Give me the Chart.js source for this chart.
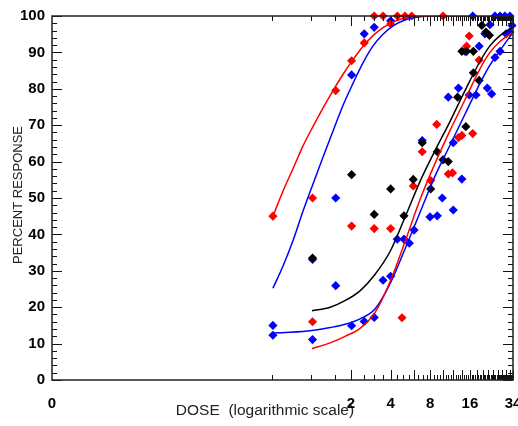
<!DOCTYPE html>
<html>
<head>
<meta charset="utf-8">
<script src="https://cdn.jsdelivr.net/npm/chart.js@4.4.0/dist/chart.umd.min.js"></script>
<style>
  html, body { margin: 0; padding: 0; background: #fff; }
</style>
</head>
<body>
<canvas id="doseChart" width="518" height="426"></canvas>
<script>
// Observed responses (dose, percent response)
const redDose = [0.51, 1.02, 1.02, 1.53, 2.02, 2.02, 2.52, 3.0, 3.0, 3.5, 4.0, 4.0, 4.5, 4.88, 5.14, 5.78, 5.94, 6.95, 8.06, 8.95, 10.0, 10.96, 11.8, 13.1, 13.9, 15.1, 15.8, 16.8, 18.8];
const redPct = [45.0, 50.0, 16.0, 79.5, 87.7, 42.3, 92.6, 100, 41.6, 100, 41.6, 97.8, 100, 17.1, 100, 100, 53.3, 62.7, 54.8, 70.2, 100, 56.6, 56.9, 66.6, 67.2, 91.7, 94.5, 67.7, 87.9];

const blueDose = [0.51, 0.51, 1.02, 1.02, 1.53, 1.53, 2.02, 2.02, 2.52, 2.52, 3.0, 3.0, 3.5, 4.0, 4.0, 4.49, 5.05, 5.54, 6.02, 6.95, 7.96, 9.04, 9.87, 10.96, 11.96, 11.96, 13.1, 13.9, 14.7, 15.8, 16.8, 17.8, 18.8, 20.8, 21.7, 22.7, 23.4, 24.8, 24.8, 27.1, 27.1, 29.5, 30.1, 32.2, 32.2, 33.4];
const bluePct = [15.0, 12.3, 11.1, 33.1, 50.0, 25.9, 83.8, 14.9, 95.1, 16.1, 96.9, 17.2, 27.4, 98.7, 28.5, 38.7, 38.7, 37.6, 41.2, 65.8, 44.8, 45.1, 50.0, 77.7, 46.7, 65.2, 80.2, 55.2, 90.3, 78.3, 100, 78.3, 91.7, 95.1, 80.2, 97.6, 78.6, 88.6, 100, 90.3, 100, 100, 95.1, 100, 95.6, 97.4];

const blackDose = [1.02, 2.02, 3.0, 4.0, 5.05, 5.94, 6.95, 8.06, 9.04, 10.0, 10.96, 12.9, 13.9, 14.9, 15.1, 17.0, 17.0, 18.8, 19.7, 21.2, 22.5];
const blackPct = [33.5, 56.4, 45.5, 52.5, 45.1, 55.1, 65.2, 52.5, 62.7, 60.5, 60.0, 77.7, 90.3, 69.6, 90.3, 90.3, 84.4, 82.3, 97.4, 95.6, 94.7];

// Fitted curves
const leftFitDose = [0.51, 0.61, 0.73, 0.86, 1.03, 1.23, 1.46, 1.74, 2.07, 2.47, 2.94, 3.5, 4.17, 4.96, 5.91, 8, 34];
const redFitAPct = [45, 52, 58.3, 64.2, 69.7, 74.8, 79.5, 84, 88, 91.7, 94.6, 96.8, 98.3, 99.3, 99.8, 100, 100];
const blueFitAPct = [25.2, 31.4, 38.6, 46.2, 53.9, 61.4, 68.4, 75.5, 81.5, 87.2, 91.8, 95, 97.3, 98.7, 99.5, 100, 100];

const rightFitDose = [1.01, 1.39, 1.80, 2.34, 3.04, 3.96, 5.14, 6.68, 8.69, 11.29, 14.68, 19.08, 22.7, 27.06, 34];
const blackFitPct = [19, 20, 21.8, 24.5, 29, 35.3, 44.7, 54.5, 63, 71, 79.5, 87.5, 91.8, 94.6, 97];
const redFitBPct = [8.6, 10.2, 12, 14.2, 18.5, 27, 38, 49.5, 59.5, 68.5, 77, 85.5, 90, 93, 95.5];
const blueFitBDose = [0.51, 0.69, 1.01, 1.39, 1.80, 2.34, 3.04, 3.96, 5.14, 6.68, 8.69, 11.29, 14.68, 19.08, 22.7, 27.06, 34];
const blueFitBPct = [12.9, 13.1, 13.6, 14.4, 15.3, 16.8, 19.5, 26.5, 36, 46, 56, 64.5, 73, 81.5, 86.5, 90.5, 95.5];

// Axis ticks
const xMin = 0.0107;
const xMax = 34;
const xTickValues = [xMin, 2, 4, 8, 16, 34];
const xTickLabels = ['0', '2', '4', '8', '16', '34'];

const RED = '#ff0000';
const BLUE = '#0000ff';
const BLACK = '#000000';
const FONT = 'Liberation Sans, Arial, sans-serif';

function pairs(xs, ys) {
    return xs.map((x, i) => ({ x: x, y: ys[i] }));
}

function pointSet(xs, ys, color) {
    return {
        data: pairs(xs, ys),
        pointStyle: 'rectRot',
        pointRadius: 4.6,
        backgroundColor: color,
        borderColor: color,
        borderWidth: 0,
        showLine: false,
        clip: false
    };
}

function curveSet(xs, ys, color) {
    return {
        data: pairs(xs, ys),
        showLine: true,
        pointRadius: 0,
        borderColor: color,
        borderWidth: 1.5,
        fill: false,
        cubicInterpolationMode: 'monotone'
    };
}

// frame, inward ticks on all four sides and both axis titles
const framePlugin = {
    id: 'framePlugin',
    beforeDraw(chart) {
        const ctx = chart.ctx;
        ctx.save();
        ctx.fillStyle = '#222';
        ctx.font = '15.5px ' + FONT;
        ctx.textAlign = 'center';
        ctx.textBaseline = 'middle';
        ctx.fillText('DOSE  (logarithmic scale)', 265, 411);
        ctx.translate(18, 195);
        ctx.rotate(-Math.PI / 2);
        ctx.font = '13px ' + FONT;
        ctx.fillText('PERCENT RESPONSE', 0, 0);
        ctx.restore();
    },
    afterDraw(chart) {
        const ctx = chart.ctx;
        const a = chart.chartArea;
        const xs = chart.scales.x;
        const ys = chart.scales.y;
        ctx.save();
        ctx.strokeStyle = '#111';
        ctx.lineWidth = 1;
        ctx.beginPath();
        for (let v = 0; v <= 100; v += 2) {
            const y = Math.round(ys.getPixelForValue(v)) + 0.5;
            const len = v % 10 === 0 ? 10 : 5;
            ctx.moveTo(a.left, y); ctx.lineTo(a.left + len, y);
            ctx.moveTo(a.right, y); ctx.lineTo(a.right - len, y);
        }
        for (let k = 1; k <= 68; k++) {
            const v = k * 0.5;
            const x = Math.round(xs.getPixelForValue(v)) + 0.5;
            const len = k % 4 === 0 ? 10 : 5;
            ctx.moveTo(x, a.bottom); ctx.lineTo(x, a.bottom - len);
            ctx.moveTo(x, a.top); ctx.lineTo(x, a.top + len);
        }
        ctx.stroke();
        ctx.lineWidth = 1.5;
        ctx.strokeStyle = '#222';
        ctx.strokeRect(a.left, a.top, a.right - a.left, a.bottom - a.top);
        ctx.restore();
    }
};

const ctx = document.getElementById('doseChart').getContext('2d');
new Chart(ctx, {
    type: 'scatter',
    data: {
        datasets: [
            curveSet(leftFitDose, redFitAPct, RED),
            curveSet(leftFitDose, blueFitAPct, BLUE),
            curveSet(rightFitDose, blackFitPct, BLACK),
            curveSet(rightFitDose, redFitBPct, RED),
            curveSet(blueFitBDose, blueFitBPct, BLUE),
            pointSet(blackDose, blackPct, BLACK),
            pointSet(redDose, redPct, RED),
            pointSet(blueDose, bluePct, BLUE)
        ]
    },
    options: {
        responsive: false,
        animation: false,
        devicePixelRatio: 1,
        layout: { padding: { top: 12, right: 5, left: 0, bottom: 0 } },
        plugins: {
            legend: { display: false },
            tooltip: { enabled: false }
        },
        scales: {
            x: {
                type: 'logarithmic',
                min: xMin,
                max: xMax,
                grid: { display: false, drawTicks: false },
                border: { display: false },
                ticks: {
                    autoSkip: false,
                    maxRotation: 0,
                    color: '#000',
                    padding: 15,
                    font: { family: FONT, size: 15, weight: 'bold' },
                    callback: (v, i) => xTickLabels[i]
                },
                afterBuildTicks: s => { s.ticks = xTickValues.map(v => ({ value: v })); },
                afterFit: s => { s.height = 46; s.paddingLeft = 0; s.paddingRight = 0; }
            },
            y: {
                min: 0,
                max: 100,
                grid: { display: false, drawTicks: false },
                border: { display: false },
                ticks: {
                    stepSize: 10,
                    color: '#000',
                    padding: 7,
                    font: { family: FONT, size: 15, weight: 'bold' }
                },
                afterFit: s => { s.width = 52; }
            }
        }
    },
    plugins: [framePlugin]
});
</script>
</body>
</html>
